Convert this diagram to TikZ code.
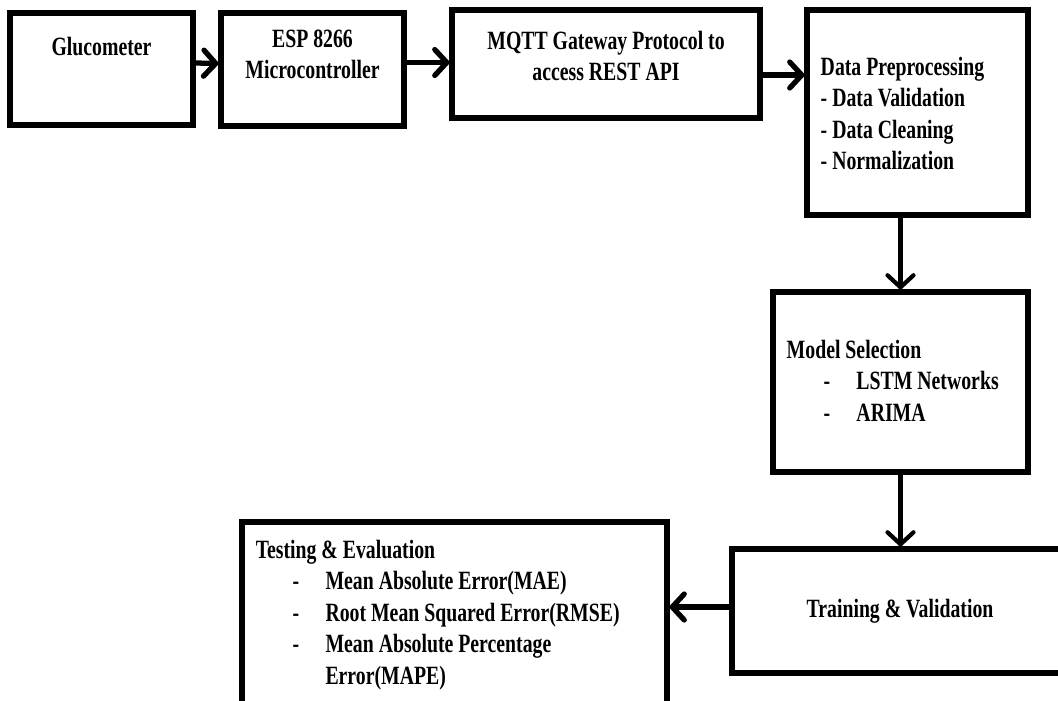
\documentclass[tikz,border=0pt]{standalone}
\usepackage{fontspec}
\setmainfont{Liberation Serif}[FakeStretch=0.75]
\usetikzlibrary{arrows.meta,positioning,calc}

% bullet line with a dash, as in the lists
\newcommand\itm[1]{\hspace*{21pt}\makebox[18.7pt][l]{-}#1}

\begin{document}
\begin{tikzpicture}[
  x=0.02cm, y=-0.02cm,
  box/.style={draw=black, line width=3pt, rectangle, inner sep=0pt},
  lbl/.style={font=\fontsize{15}{18}\selectfont\bfseries, inner sep=0pt},
  flow/.style={line width=3pt, line cap=round,
    -{Straight Barb[length=0.24cm, width=0.52cm, round]}}
]

% picture frame (pixel grid 1058 x 700)
\useasboundingbox (0,0) rectangle (1058,700);
\clip (0,0) rectangle (1058,700);

% ============================================================
% TOP ROW: sensing and transfer
% ============================================================
\node[box, minimum width=3.66cm, minimum height=2.24cm] (glu) at (101.5,69) {};
\node[box, minimum width=3.66cm, minimum height=2.26cm] (esp) at (312.5,69.5) {};
\node[box, minimum width=6.16cm, minimum height=2.16cm] (mqtt) at (606,64) {};
\node[box, minimum width=4.42cm, minimum height=4.10cm] (pre) at (917.5,112.5) {};

\node[lbl, anchor=north] (glutxt) at ([yshift=-0.52cm]glu.north) {Glucometer};
\node[lbl, anchor=north, align=center] (esptxt) at ([yshift=-0.38cm]esp.north)
  {ESP 8266\\Microcontroller};
\node[lbl, anchor=north, align=center] (mqtttxt) at ([yshift=-0.46cm]mqtt.north)
  {MQTT Gateway Protocol to\\access REST API};
\node[lbl, anchor=north west, align=left] (pretxt)
  at ([xshift=0.32cm, yshift=-0.98cm]pre.north west)
  {Data Preprocessing\\- Data Validation\\- Data Cleaning\\- Normalization};

% ============================================================
% RIGHT COLUMN AND BOTTOM ROW: modelling
% ============================================================
\node[box, minimum width=5.10cm, minimum height=3.60cm] (model) at (900.5,382) {};
\node[box, minimum width=6.72cm, minimum height=2.48cm, lbl] (train) at (900,611)
  {Training \& Validation};
\node[box, minimum width=8.50cm, minimum height=3.80cm] (test) at (454.5,617) {};

\node[lbl, anchor=north west, align=left] (modeltxt)
  at ([xshift=0.32cm, yshift=-1.00cm]model.north west)
  {Model Selection\\ \itm{LSTM Networks}\\ \itm{ARIMA}};
\node[lbl, anchor=north west, align=left] (testtxt)
  at ([xshift=0.32cm, yshift=-0.40cm]test.north west)
  {Testing \& Evaluation\\
   \itm{Mean Absolute Error(MAE)}\\
   \itm{Root Mean Squared Error(RMSE)}\\
   \itm{Mean Absolute Percentage}\\
   \hspace*{39.7pt}Error(MAPE)};

% ============================================================
% CONNECTORS
% ============================================================
\draw[flow] ($(glu.east)+(0,-6)$) -- ($(esp.west)+(0,-6)$);
\draw[flow] ($(esp.east)+(0,-7)$) -- ($(esp.east -| mqtt.west)+(0,-7)$);
\draw[flow] ($(mqtt.east)+(0,11)$) -- ($(mqtt.east -| pre.west)+(0,11)$);
\draw[flow, line width=2.4pt] (model.north |- pre.south) -- (model.north);
\draw[flow, line width=2.4pt] (model.south) -- (model.south |- train.north);
\draw[flow] ($(train.west)+(0,-4)$) -- ($(train.west -| test.east)+(0,-4)$);

\end{tikzpicture}
\end{document}
